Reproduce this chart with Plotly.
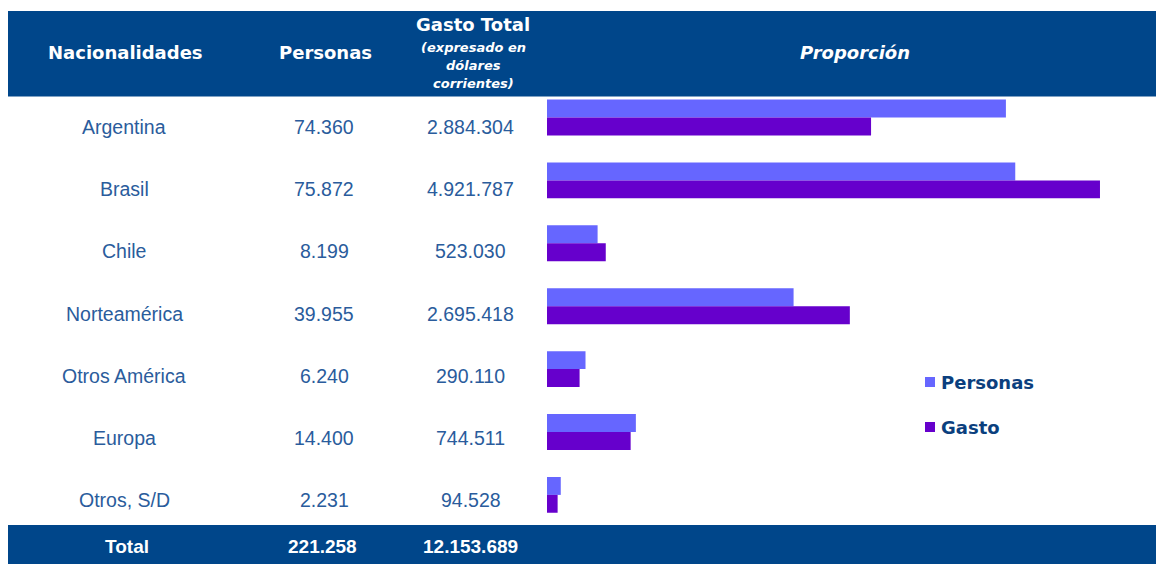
import plotly.graph_objects as go

OFF = 8  # page body margin
W, H = 1164 - OFF, 564 - OFF

nacionalidades = ["Argentina", "Brasil", "Chile", "Norteamérica", "Otros América", "Europa", "Otros, S/D"]
personas = [74360, 75872, 8199, 39955, 6240, 14400, 2231]
gasto = [2884304, 4921787, 523030, 2695418, 290110, 744511, 94528]
personas_lbl = ["74.360", "75.872", "8.199", "39.955", "6.240", "14.400", "2.231"]
gasto_lbl = ["2.884.304", "4.921.787", "523.030", "2.695.418", "290.110", "744.511", "94.528"]
total_personas = 221258
total_gasto = 12153689
total_lbl = ["Total", "221.258", "12.153.689"]
series_names = ["Personas", "Gasto"]

prop_personas = [p / total_personas for p in personas]
prop_gasto = [g / total_gasto for g in gasto]

NAVY = "#00468A"
C_PERS = "#6666FF"
C_GASTO = "#6600CC"
TXT = "#2A5C9C"
LEG_TXT = "#0B3F7E"

def px(x):
    return (x - OFF) / W

def py(y):
    return 1 - (y - OFF) / H

idx = list(range(len(nacionalidades)))

fig = go.Figure()
fig.add_trace(go.Bar(y=idx, x=prop_personas, orientation="h", name=series_names[0],
                     marker=dict(color=C_PERS, line=dict(width=0)), showlegend=False, hoverinfo="skip"))
fig.add_trace(go.Bar(y=idx, x=prop_gasto, orientation="h", name=series_names[1],
                     marker=dict(color=C_GASTO, line=dict(width=0)), showlegend=False, hoverinfo="skip"))

row0, step = 117.5, 62.9
y_top = row0 - step / 2
y_bot = row0 + 6 * step + step / 2
scale = 1365.5
x_right = W + OFF
fig.update_layout(
    width=W, height=H,
    margin=dict(l=0, r=0, t=0, b=0),
    paper_bgcolor="white", plot_bgcolor="white",
    barmode="group", bargap=0.43, bargroupgap=0,
    xaxis=dict(domain=[px(547), 1], range=[0, (x_right - 547) / scale], visible=False, fixedrange=True),
    yaxis=dict(domain=[py(y_bot), py(y_top)], range=[6.5, -0.5], visible=False, fixedrange=True),
    showlegend=False,
)

shapes = [
    dict(type="rect", xref="paper", yref="paper", x0=0, x1=1, y0=py(96.5), y1=py(11),
         fillcolor=NAVY, line=dict(width=0), layer="below"),
    dict(type="rect", xref="paper", yref="paper", x0=0, x1=1, y0=0, y1=py(525),
         fillcolor=NAVY, line=dict(width=0), layer="below"),
]

ann = []
HDR = "DejaVu Sans"
BODY = "Liberation Sans"

def add(text, x, y, size, color, family, bold=False, italic=False):
    t = text
    if bold:
        t = "<b>" + t + "</b>"
    if italic:
        t = "<i>" + t + "</i>"
    ann.append(dict(text=t, x=px(x), y=py(y), xref="paper", yref="paper", showarrow=False,
                    xanchor="center", yanchor="middle", font=dict(size=size, color=color, family=family)))

add("Nacionalidades", 125, 53, 18, "white", HDR, bold=True)
add("Personas", 325, 53, 18, "white", HDR, bold=True)
add("Gasto Total", 473, 24, 18, "white", HDR, bold=True)
add("(expresado en", 473, 47, 13, "white", HDR, bold=True, italic=True)
add("dólares", 473, 65, 13, "white", HDR, bold=True, italic=True)
add("corrientes)", 473, 83, 13, "white", HDR, bold=True, italic=True)
add("Proporción", 855, 53, 18, "white", HDR, bold=True, italic=True)

for i, name in enumerate(nacionalidades):
    yc = 127 + i * 62.2
    add(name, 124, yc, 19.5, TXT, BODY)
    add(personas_lbl[i], 324, yc, 19.5, TXT, BODY)
    add(gasto_lbl[i], 471, yc, 19.5, TXT, BODY)

add(total_lbl[0], 127, 546, 19, "white", BODY, bold=True)
add(total_lbl[1], 322, 546, 19, "white", BODY, bold=True)
add(total_lbl[2], 470, 546, 19, "white", BODY, bold=True)

# legend
for name, col, yc in [(series_names[0], C_PERS, 382), (series_names[1], C_GASTO, 427)]:
    shapes.append(dict(type="rect", xref="paper", yref="paper", x0=px(925), x1=px(935),
                       y0=py(yc + 5), y1=py(yc - 5), fillcolor=col, line=dict(width=0)))
    ann.append(dict(text="<b>" + name + "</b>", x=px(939), y=py(yc), xref="paper", yref="paper",
                    showarrow=False, xanchor="left", yanchor="middle",
                    font=dict(size=18, color=LEG_TXT, family=HDR)))

fig.update_layout(shapes=shapes, annotations=ann)
fig.write_html("out.html", config={"displayModeBar": False})
